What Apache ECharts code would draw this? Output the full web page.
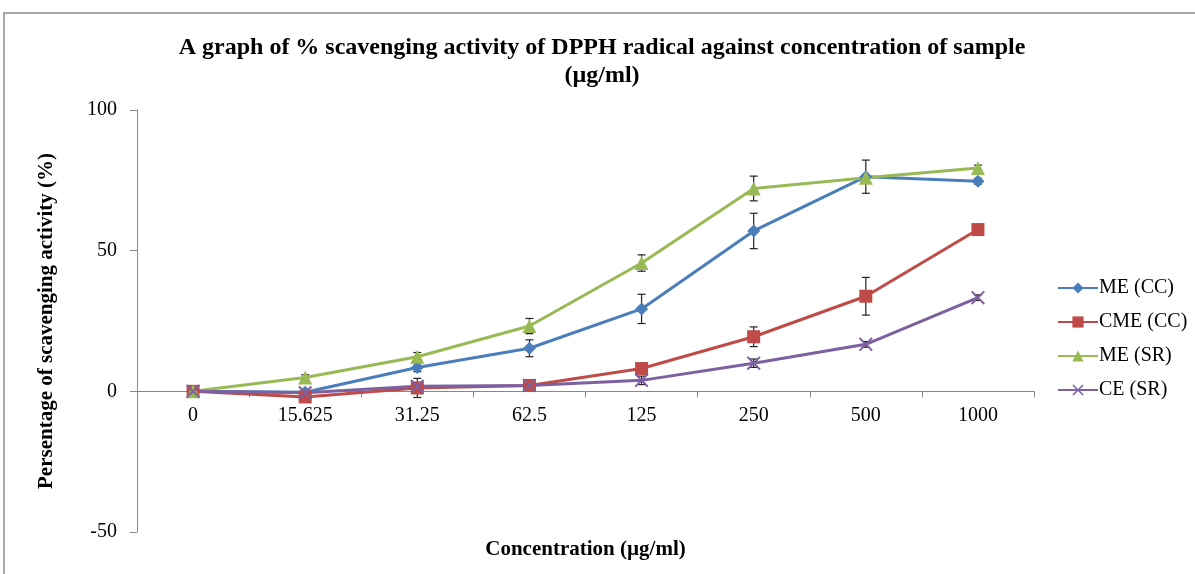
<!DOCTYPE html>
<html>
<head>
<meta charset="utf-8">
<script src="https://cdn.jsdelivr.net/npm/echarts@6/dist/echarts.min.js"></script>
<style>
  html, body { margin: 0; padding: 0; background: #fff; }
</style>
</head>
<body>
<div id="chart" style="width: 1195px; height: 574px"></div>
<script>
// concentrations (µg/ml)
const categories = ["0", "15.625", "31.25", "62.5", "125", "250", "500", "1000"];

// % scavenging activity
const meCC = [0, -0.3, 8.5, 15.3, 29.3, 57, 76.3, 74.7];
const cmeCC = [0, -2, 1.2, 2.1, 8.1, 19.4, 33.8, 57.5];
const meSR = [0, 4.9, 12.3, 23.2, 45.6, 72.1, 75.9, 79.4];
const ceSR = [0, -0.5, 1.8, 2.1, 3.9, 10, 16.7, 33.3];

// error bar half-widths
const meCCErr = [0, 1, 1.5, 3, 5.2, 6.3, 5.9, 1];
const cmeCCErr = [0, 1, 3.4, 1, 1, 3.5, 6.7, 1];
const meSRErr = [0, 1, 1.5, 2.7, 2.9, 4.4, 1, 1];
const ceSRErr = [0, 1, 1, 0.5, 1.5, 1.5, 1, 1];

const names = ["ME (CC)", "CME (CC)", "ME (SR)", "CE (SR)"];
const colors = ["#4a7ebb", "#be4b48", "#98b954", "#7d60a0"];
const symbols = [
  "diamond",
  "rect",
  "triangle",
  "path://M0,1L1,0L5,4L9,0L10,1L6,5L10,9L9,10L5,6L1,10L0,9L4,5Z",
];
const values = [meCC, cmeCC, meSR, ceSR];
const errors = [meCCErr, cmeCCErr, meSRErr, ceSRErr];

const serif = "'Liberation Serif', 'DejaVu Serif', serif";

let myChart = echarts.init(document.getElementById("chart"));

let series = [];
// error bars first so the markers sit on top
for (let s = 0; s < 4; s++) {
  let errData = [];
  for (let i = 0; i < categories.length; i++) {
    errData.push([i, values[s][i] - errors[s][i], values[s][i] + errors[s][i]]);
  }
  series.push({
    type: "custom",
    name: names[s] + " err",
    data: errData,
    z: 1,
    silent: true,
    renderItem: function (params, api) {
      const x = api.value(0);
      const lo = api.coord([x, api.value(1)]);
      const hi = api.coord([x, api.value(2)]);
      const w = 4;
      const style = { stroke: "#222", lineWidth: 1.2 };
      return {
        type: "group",
        children: [
          { type: "line", shape: { x1: lo[0], y1: lo[1], x2: hi[0], y2: hi[1] }, style: style },
          { type: "line", shape: { x1: lo[0] - w, y1: lo[1], x2: lo[0] + w, y2: lo[1] }, style: style },
          { type: "line", shape: { x1: hi[0] - w, y1: hi[1], x2: hi[0] + w, y2: hi[1] }, style: style },
        ],
      };
    },
  });
}
for (let s = 0; s < 4; s++) {
  series.push({
    type: "line",
    name: names[s],
    data: values[s],
    z: 3,
    symbol: symbols[s],
    symbolSize: s === 3 ? 14 : s === 2 ? 14 : 13,
    showAllSymbol: true,
    itemStyle: { color: colors[s] },
    lineStyle: { color: colors[s], width: 3 },
  });
}

let option = {
  animation: false,
  backgroundColor: "#fff",
  title: {
    text: "A graph of % scavenging activity of DPPH radical against concentration of sample\n(µg/ml)",
    left: 597,
    textAlign: "center",
    top: 29,
    textStyle: {
      fontFamily: serif,
      fontWeight: "bold",
      fontSize: 24,
      lineHeight: 28,
      color: "#000",
    },
  },
  graphic: [
    {
      type: "polyline",
      shape: { points: [[4, 574], [4, 13], [1195, 13]] },
      style: { stroke: "#8c8c8c", lineWidth: 1.5, fill: null },
    },
  ],
  legend: {
    data: names,
    orient: "vertical",
    left: 1052,
    top: 273,
    itemGap: 14,
    itemWidth: 40,
    itemHeight: 14,
    textStyle: { fontFamily: serif, fontSize: 20, color: "#000", padding: [0, 0, 0, -4] },
  },
  grid: {
    left: 137,
    right: 161,
    top: 110,
    bottom: 42,
    containLabel: false,
    outerBoundsMode: "none",
  },
  xAxis: {
    type: "category",
    data: categories,
    name: "Concentration (µg/ml)",
    nameLocation: "middle",
    nameGap: 7,
    nameTextStyle: { fontFamily: serif, fontWeight: "bold", fontSize: 21, color: "#000" },
    axisLine: { onZero: true, lineStyle: { color: "#888" } },
    axisTick: { show: true, alignWithLabel: false, length: 6, lineStyle: { color: "#888" } },
    axisLabel: { fontFamily: serif, fontSize: 20, color: "#000", margin: -126 },
  },
  yAxis: {
    type: "value",
    min: -50,
    max: 100,
    interval: 50,
    name: "Persentage of scavenging activity (%)",
    nameLocation: "middle",
    nameGap: 80,
    nameTextStyle: { fontFamily: serif, fontWeight: "bold", fontSize: 21, color: "#000" },
    splitLine: { show: false },
    axisLine: { show: true, lineStyle: { color: "#888" } },
    axisTick: { show: true, length: 7, lineStyle: { color: "#888" } },
    axisLabel: { fontFamily: serif, fontSize: 20, color: "#000", margin: 20 },
  },
  series: series,
};

myChart.setOption(option);
</script>
</body>
</html>
